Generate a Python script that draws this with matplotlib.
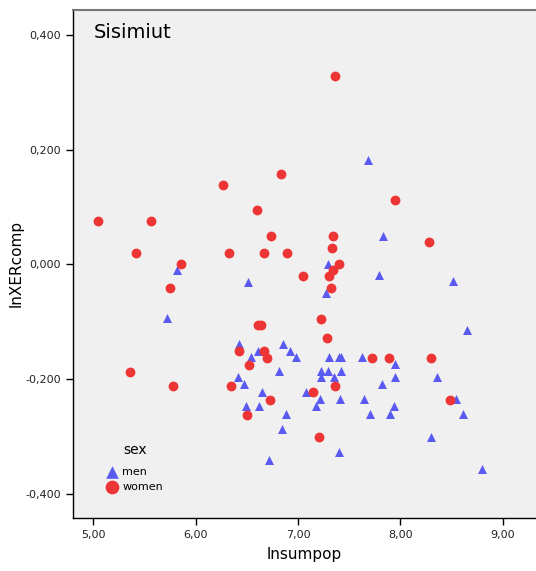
import numpy as np
import matplotlib.pyplot as plt
from matplotlib.ticker import FuncFormatter

# women (red circles)
women_x = [7.360, 6.835, 6.268, 7.949, 6.600, 5.043, 5.567, 6.740, 7.343, 8.279,
           7.330, 5.414, 6.327, 6.664, 6.896, 7.399, 5.857, 7.346, 7.050, 7.307,
           5.750, 7.326, 7.226, 6.607, 6.639, 7.287, 6.421, 6.669, 6.695, 7.721,
           7.888, 8.301, 6.519, 5.362, 7.358, 6.343, 5.776, 7.151, 6.730, 8.487,
           6.498, 7.203]
women_y = [0.329, 0.157, 0.139, 0.113, 0.095, 0.076, 0.076, 0.049, 0.049, 0.039,
           0.029, 0.020, 0.020, 0.020, 0.020, 0.000, 0.000, -0.010, -0.020, -0.020,
           -0.041, -0.041, -0.095, -0.106, -0.106, -0.128, -0.151, -0.151, -0.163, -0.163,
           -0.163, -0.163, -0.175, -0.187, -0.211, -0.211, -0.211, -0.223, -0.236, -0.236,
           -0.262, -0.301]

# men (blue triangles)
men_x = [7.688, 7.835, 7.294, 5.821, 6.512, 7.790, 8.511, 7.272, 5.723, 8.653,
         6.429, 6.851, 6.610, 6.926, 6.977, 6.544, 7.299, 7.397, 7.418, 7.627,
         7.949, 6.815, 7.226, 7.295, 7.418, 6.412, 7.226, 7.353, 7.949, 8.363,
         6.476, 7.819, 6.646, 7.081, 7.211, 7.414, 7.649, 8.543, 6.488, 6.617,
         7.174, 7.939, 6.884, 7.708, 7.897, 8.617, 6.842, 8.301, 7.399, 6.715,
         8.803]
men_y = [0.183, 0.050, 0.000, -0.009, -0.030, -0.019, -0.029, -0.050, -0.093, -0.115,
         -0.138, -0.138, -0.150, -0.150, -0.162, -0.162, -0.162, -0.162, -0.162, -0.162,
         -0.173, -0.185, -0.185, -0.185, -0.185, -0.197, -0.197, -0.197, -0.197, -0.197,
         -0.209, -0.209, -0.222, -0.222, -0.235, -0.235, -0.235, -0.234, -0.247, -0.247,
         -0.247, -0.247, -0.260, -0.260, -0.260, -0.260, -0.287, -0.300, -0.327, -0.341,
         -0.356]

x_ticks = [5, 6, 7, 8, 9]
y_ticks = [-0.4, -0.2, 0.0, 0.2, 0.4]

fig = plt.figure(figsize=(5.36, 5.71), dpi=100)
ax = fig.add_axes([0.1353, 0.0928, 0.8647, 0.890])
ax.set_facecolor('#F0F0F0')

ax.scatter(men_x, men_y, marker='^', s=42, color='#5A5AF0', linewidths=0, label='men', zorder=3)
ax.scatter(women_x, women_y, marker='o', s=50, color='#EE3535', linewidths=0, label='women', zorder=3)

ax.set_xlim(4.797, 9.327)
ax.set_ylim(-0.442, 0.444)
ax.set_xticks(x_ticks)
ax.set_yticks(y_ticks)
ax.xaxis.set_major_formatter(FuncFormatter(lambda v, p: f'{v:.2f}'.replace('.', ',')))
ax.yaxis.set_major_formatter(FuncFormatter(lambda v, p: f'{v:.3f}'.replace('.', ',')))
ax.tick_params(labelsize=8, length=5, width=1, color='black', labelcolor='#222222')

for side in ['left', 'bottom']:
    ax.spines[side].set_color('black')
    ax.spines[side].set_linewidth(1)
ax.spines['top'].set_color('#777777')
ax.spines['top'].set_linewidth(1.5)
ax.spines['right'].set_visible(False)

ax.set_xlabel('lnsumpop', fontsize=11, labelpad=5)
ax.set_ylabel('lnXERcomp', fontsize=11, labelpad=1)

ax.text(0.045, 0.975, 'Sisimiut', transform=ax.transAxes, fontsize=14, va='top', ha='left')

leg = ax.legend(title='sex', loc='lower left', bbox_to_anchor=(0.0615, 0.041), frameon=False,
                fontsize=8, title_fontsize=10, markerscale=1.4, handlelength=1.0,
                handletextpad=0.4, labelspacing=0.45, borderpad=0)
leg._legend_box.sep = 7  # gap between title and entries

plt.savefig('out.png', dpi=100)
